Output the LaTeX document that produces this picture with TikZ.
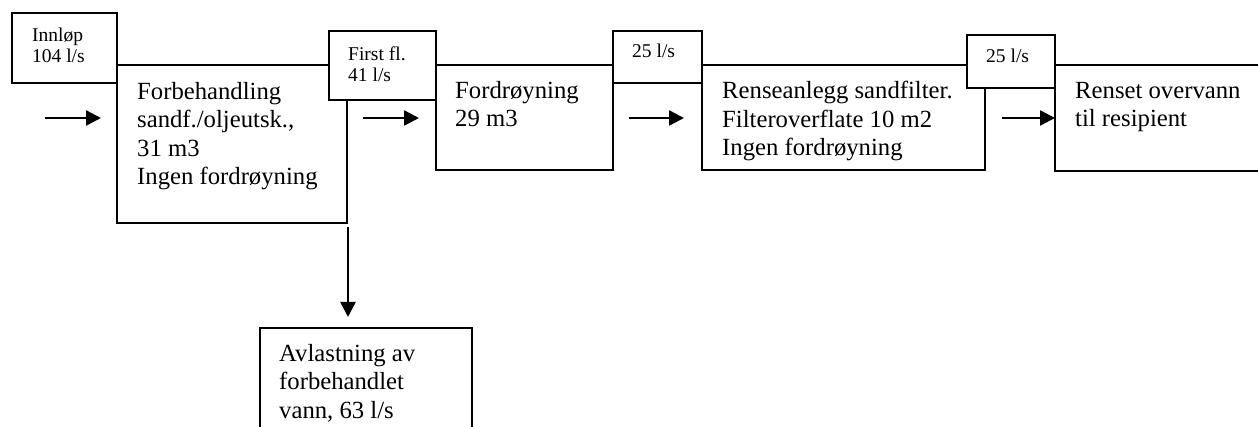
\documentclass[tikz,border=0pt]{standalone}
\usepackage{fontspec}
\setmainfont{Liberation Serif}
\usetikzlibrary{arrows.meta}
\begin{document}
\begin{tikzpicture}[x=1pt,y=-1pt,
  box/.style={draw=black,line width=1.8pt,fill=white,rectangle,inner sep=0pt,outer sep=0pt,anchor=north west},
  bigtxt/.style={anchor=base west,inner sep=0pt,align=left,font=\fontsize{24.7pt}{28.5pt}\selectfont},
  smalltxt/.style={anchor=base west,inner sep=0pt,align=left,font=\fontsize{19.5pt}{21pt}\selectfont},
  flow/.style={line width=2.4pt,-{Triangle[length=15pt,width=15pt]}}]
\clip (0,0) rectangle (1258,427);
\fill[white] (0,0) rectangle (1258,427);
% large boxes
\node[box,minimum width=230pt,minimum height=158pt] (forb) at (117,65) {};
\node[box,minimum width=177pt,minimum height=105pt] (ford) at (436,65) {};
\node[box,minimum width=283pt,minimum height=105pt] (rens) at (702,65) {};
\node[box,minimum width=260pt,minimum height=106pt] (renset) at (1055,65) {};
\node[box,minimum width=212pt,minimum height=140pt] (avl) at (260,328) {};
% small boxes
\node[box,minimum width=105pt,minimum height=70pt] (inn) at (12,13) {};
\node[box,minimum width=107pt,minimum height=69pt] (first) at (329,31) {};
\node[box,minimum width=89pt,minimum height=52pt] (q1) at (613,31) {};
\node[box,minimum width=88pt,minimum height=53pt] (q2) at (967,35) {};
% texts (anchor = baseline of last line)
\node[smalltxt] (tinn) at (32,63) {Innløp\\104 l/s};
\node[smalltxt] (tfirst) at (348,82) {First fl.\\41 l/s};
\node[smalltxt] (tq1) at (632,58) {25 l/s};
\node[smalltxt] (tq2) at (986,63) {25 l/s};
\node[bigtxt] (tforb) at (137,185) {Forbehandling\\sandf./oljeutsk.,\\31 m3\\Ingen fordrøyning};
\node[bigtxt] (tford) at (455,127) {Fordrøyning\\29 m3};
\node[bigtxt] (trens) at (722,156) {Renseanlegg sandfilter.\\Filteroverflate 10 m2\\Ingen fordrøyning};
\node[bigtxt] (trenset) at (1075,127) {Renset overvann\\til resipient};
\node[bigtxt] (tavl) at (279,418) {Avlastning av\\forbehandlet\\vann, 63 l/s};
% arrows
\coordinate (a1s) at (45,118); \coordinate (a1e) at (101,118);
\coordinate (a2s) at (363,118); \coordinate (a2e) at (419,118);
\coordinate (a3s) at (629,118); \coordinate (a3e) at (684,118);
\coordinate (a4s) at (1002,118);
\coordinate (a5s) at (348,227); \coordinate (a5e) at (348,317);
\draw[flow] (a1s) -- (a1e);
\draw[flow] (a2s) -- (a2e);
\draw[flow] (a3s) -- (a3e);
\draw[flow] (a4s) -- (a4s -| renset.west);
\draw[flow] (a5s) -- (a5e);
\end{tikzpicture}
\end{document}
